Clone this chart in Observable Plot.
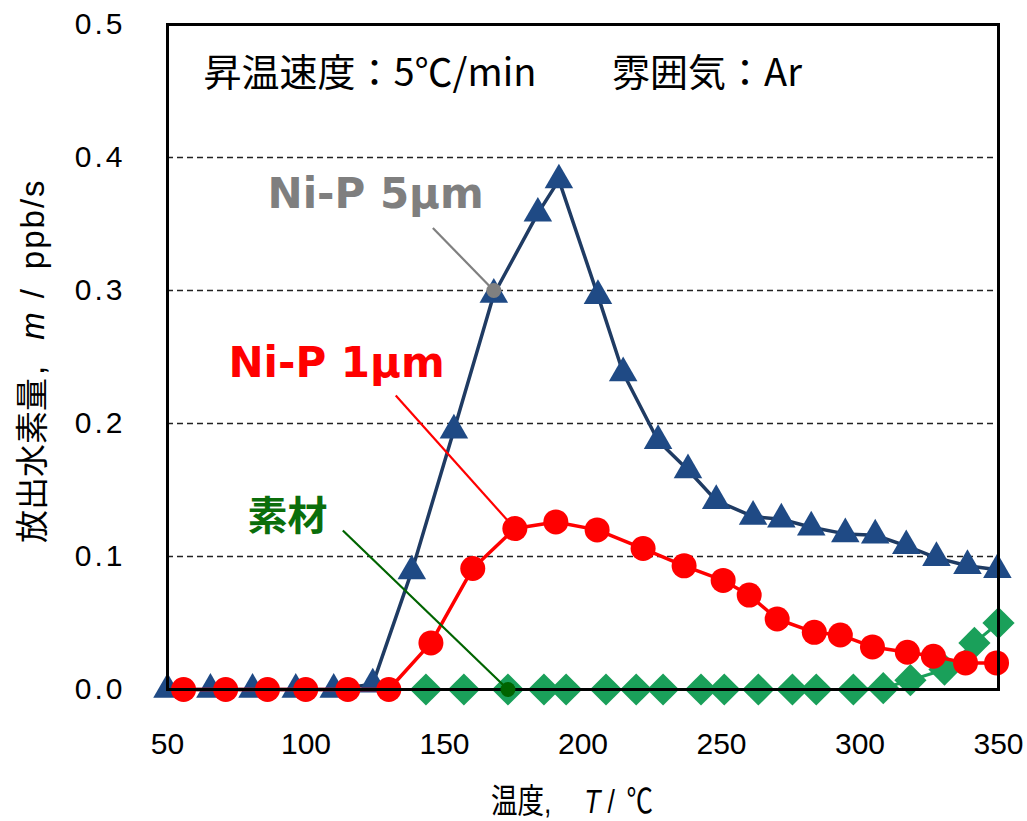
<!DOCTYPE html>
<html><head><meta charset="utf-8">
<script src="https://cdn.jsdelivr.net/npm/d3@7"></script>
<script src="https://cdn.jsdelivr.net/npm/@observablehq/plot@0.6"></script>
<style>
html,body{margin:0;padding:0;background:#fff;}
#chart{width:1027px;height:821px;}
</style>
</head><body><div id="chart"></div>
<script>
// Ni-P 5µm (blue triangles)
const tempNiP5 = [50,65.5,80.7,96.3,110,124.1,138.2,153.4,167.8,183.7,191.3,205.4,214.5,227.1,237.9,248.1,261.4,271.6,282.4,294.7,305.5,316.7,327.6,338.8,349.6];
const rateNiP5 = [0,0,0,0,0,0.004,0.089,0.195,0.297,0.358,0.383,0.296,0.238,0.187,0.165,0.142,0.130,0.128,0.122,0.117,0.116,0.108,0.099,0.093,0.090];
// Ni-P 1µm (red circles)
const tempNiP1 = [55.8,71.0,86.1,99.9,115.1,129.9,145.1,160.2,175.4,190.2,205.1,221.7,236.5,250.6,260.0,270.1,283.5,292.9,304.5,317.1,326.5,338.1,349.3];
const rateNiP1 = [0,0,0,0,0,0,0.035,0.091,0.121,0.126,0.120,0.106,0.093,0.082,0.071,0.053,0.043,0.041,0.032,0.028,0.025,0.020,0.020];
// 素材 (green diamonds)
const tempBase = [143.3,157.0,172.9,185.9,193.9,208.3,219.2,228.9,242.6,251.0,263.3,275.6,284.2,297.6,308.4,318.2,330.5,341.3,350];
const rateBase = [0,0,0,0,0,0,0,0,0,0,0,0,0,0,0.001,0.007,0.015,0.035,0.050];

const xTicks = [50,100,150,200,250,300,350];
const yTicks = [0,0.1,0.2,0.3,0.4,0.5];
const gridValues = [0.1,0.2,0.3,0.4];

// annotation labels (data coordinates)
const labelText = ["Ni-P 5μm","Ni-P 1μm","素材"];
const labelX = [86.1,72.0,78.9];
const labelY = [0.3617,0.2346,0.1203];
const labelColor = ["#7f7f7f","#ff0000","#0b6e0b"];
const labelFont = ["DejaVu Sans","DejaVu Sans","Noto Sans CJK JP"];
const labelSize = [42,42,40];
// leader lines
const leadX1 = [145.8,132.4,113.3];
const leadY1 = [0.347,0.221,0.1195];
const leadX2 = [167.8,175.4,172.9];
const leadY2 = [0.300,0.121,0];
const leadColor = ["#808080","#ff0000","#006400"];
// condition notes
const noteText = ["昇温速度：5℃/min","雰囲気：Ar"];
const noteX = [63.0,210.5];
const noteY = [0.4541,0.4541];

const s5 = tempNiP5.map((t,i)=>({t, v:rateNiP5[i]}));
const s1 = tempNiP1.map((t,i)=>({t, v:rateNiP1[i]}));
const sb = tempBase.map((t,i)=>({t, v:rateBase[i]}));
const labels = labelText.map((s,i)=>({s, x:labelX[i], y:labelY[i], c:labelColor[i], f:labelFont[i], z:labelSize[i]}));
const leads = leadX1.map((x1,i)=>({x1, y1:leadY1[i], x2:leadX2[i], y2:leadY2[i], c:leadColor[i]}));
const notes = noteText.map((s,i)=>({s, x:noteX[i], y:noteY[i]}));

const chart = Plot.plot({
  width: 1027, height: 821,
  marginLeft: 167, marginRight: 29, marginTop: 24, marginBottom: 132,
  style: {fontFamily: "'Liberation Sans', Arial, sans-serif", fontSize: "30px", color: "#000", background: "#fff", overflow: "visible"},
  x: {domain: [50,350], ticks: xTicks, tickSize: 0, tickPadding: 43, label: null},
  y: {domain: [0,0.5], ticks: yTicks, tickFormat: d3.format(".1f"), tickSize: 0, tickPadding: 42, label: null},
  marks: [
    Plot.ruleY(gridValues, {stroke: "#222", strokeWidth: 1.5, strokeDasharray: "6,4"}),
    Plot.line(s5, {x: "t", y: "v", stroke: "#1f3b63", strokeWidth: 3.5}),
    Plot.dot(s5, {x: "t", y: "v", symbol: "triangle", r: 10.6, fill: "#1f4a85", stroke: "none"}),
    Plot.line(sb, {x: "t", y: "v", stroke: "#1aa05a", strokeWidth: 3}),
    Plot.dot(sb, {x: "t", y: "v", symbol: "diamond2", r: 14.5, fill: "#1aa05a", stroke: "none"}),
    Plot.line(s1, {x: "t", y: "v", stroke: "#ff0000", strokeWidth: 3.5}),
    Plot.dot(s1, {x: "t", y: "v", r: 12.5, fill: "#ff0000", stroke: "none"}),
    Plot.frame({stroke: "#000", strokeWidth: 3}),
    Plot.link(leads, {x1: "x1", y1: "y1", x2: "x2", y2: "y2", stroke: "c", strokeWidth: 2.2}),
    Plot.dot(leads.slice(0,1), {x: "x2", y: "y2", r: 7.5, fill: "#808080"}),
    Plot.dot(leads.slice(2,3), {x: "x2", y: "y2", r: 7.5, fill: "#006400"}),
    ...labels.map(l => Plot.text([l], {x: "x", y: "y", text: "s", fill: l.c, fontFamily: l.f, fontSize: l.z, fontWeight: "bold", textAnchor: "start", lineAnchor: "bottom"})),
    Plot.text(notes, {x: "x", y: "y", text: "s", fill: "#000", fontFamily: "'Noto Sans CJK JP', sans-serif", fontSize: 38, textAnchor: "start", lineAnchor: "bottom"})
  ]
});

const svg = d3.select(chart);
svg.selectAll('g[aria-label="y-axis tick label"] text').style("letter-spacing", "3px");

// x-axis title: 温度, T / ℃
const xt = svg.append("text").attr("transform", "translate(491,813) scale(0.78,1)").attr("text-anchor", "start")
  .attr("font-family", "'Noto Sans CJK JP', sans-serif").attr("font-size", 34).attr("fill", "#000");
xt.append("tspan").text("温度");
xt.append("tspan").attr("font-family", "'Liberation Sans', sans-serif").text(",");
xt.append("tspan").attr("dx", 42).attr("font-style", "italic").attr("font-family", "'Liberation Sans', sans-serif").text("T");
xt.append("tspan").attr("dx", 9).attr("font-family", "'Liberation Sans', sans-serif").text("/");
xt.append("tspan").attr("dx", 15).text("℃");

// y-axis title: 放出水素量, m / ppb/s
const yt = svg.append("text").attr("transform", "translate(44,543) rotate(-90)").attr("text-anchor", "start")
  .attr("font-family", "'Noto Sans CJK JP', sans-serif").attr("font-size", 33).attr("fill", "#000");
yt.append("tspan").text("放出水素量");
yt.append("tspan").attr("dx", 3).attr("font-family", "'Liberation Sans', sans-serif").text(",");
yt.append("tspan").attr("dx", 26).attr("font-style", "italic").attr("font-family", "'Liberation Sans', sans-serif").text("m");
yt.append("tspan").attr("dx", 14).attr("font-family", "'Liberation Sans', sans-serif").text("/");
yt.append("tspan").attr("dx", 20).attr("font-family", "'Liberation Sans', sans-serif").attr("letter-spacing", "2px").text("ppb/s");

document.getElementById("chart").appendChild(chart);
</script>
</body></html>
